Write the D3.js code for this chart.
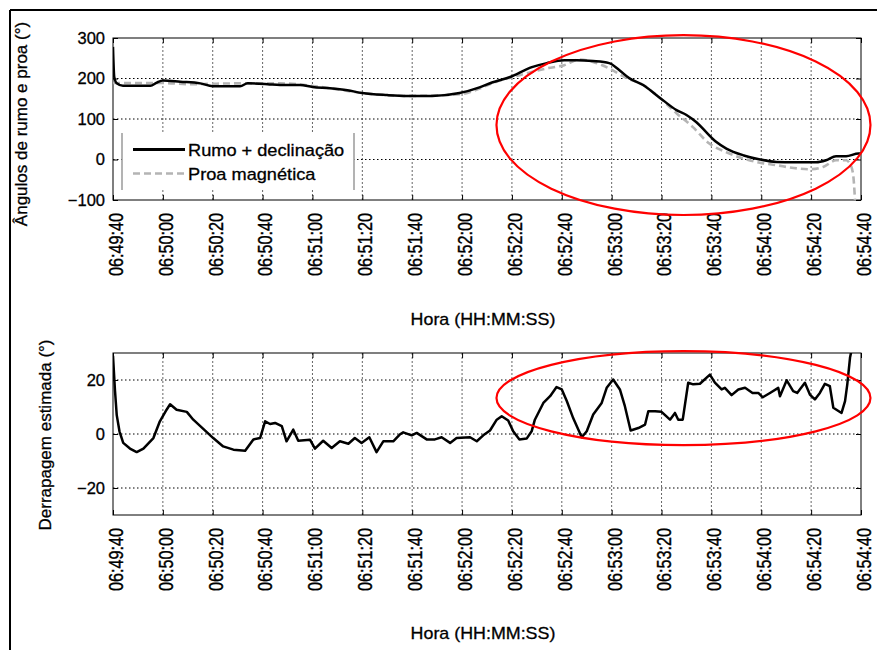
<!DOCTYPE html>
<html>
<head>
<meta charset="utf-8">
<script src="https://cdn.jsdelivr.net/npm/d3@7"></script>
<style>
  body { margin: 0; background: #fff; }
  svg text { font-family: "Liberation Sans", Arial, sans-serif; fill: #000; stroke: #000; stroke-width: 0.3px; }
</style>
</head>
<body>
<svg id="chart" width="877" height="650"></svg>
<script>
// ---- time axis (seconds after 06:49:40) ----
const tickLabels = ["06:49:40","06:50:00","06:50:20","06:50:40","06:51:00","06:51:20","06:51:40","06:52:00",
                    "06:52:20","06:52:40","06:53:00","06:53:20","06:53:40","06:54:00","06:54:20","06:54:40"];

// ---- top panel: heading angles (degrees) ----
const headingTicks = [-100, 0, 100, 200, 300];
const rumoSec = [0,0.5,1.5,4,15,17.6,20,27,35,40,51,54,62,67,75,80,87,94,100,110,118,128,139,147,152,159,168,174,181,186,192.5,199,203,207,212.6,219,226,230,234,238,242,246,253,259.5,266,273,282,286,290,294,299,300];
const rumoDeg = [278,204,188,182,182,190,195,192,188,181,181,188,186,184,184,179,176,171,164,159,157,157,164,178,190,203,228,238,245,245,243,238,221,201,184,154,122,110,92,67,43,27,10,0,-6,-7,-7,-2,8,8,15,15];
const proaSec = [0,19,31,40,51,67,87,100,118,139,147,152,163,174,181,187,192.5,199,206,212.6,219,226,232.6,239,246,253,259.5,266,273,279.5,285,290,294,295.5,296.8,297.6];
const proaDeg = [189,189,186,187,188,188,176,164,157,161,175,188,208,225,233,247,241,225,201,184,154,114,80,40,18,2,-8,-14,-21,-24,-18,-2,-2,-10,-35,-100];

// ---- bottom panel: estimated drift (degrees) ----
const driftTicks = [-20, 0, 20];
const driftSec = [0,0.8,1.5,2.6,4.1,6.8,9.5,12.2,16.2,18.8,21.5,22.9,25.5,29.6,32.2,36.2,40.2,44.2,48.3,53,56.3,59,61,63,65,67.7,69.6,72.3,74.3,79,81,84.3,87.7,91,94.4,97,99.7,102.8,105.7,108.4,112.4,115,116.4,119.8,121.8,125.8,129.1,131.8,135.2,137.8,143.2,145.9,148.5,151.2,153.9,155.9,158.5,160.5,163,165.9,167.9,169.2,172.6,175.3,177.9,180,182,184.6,188,190,192.6,196,198,200.6,203.3,205.3,207.6,210.7,213.4,214.7,217.4,220,223.4,225.4,226.7,228.5,230.7,232.7,235.4,239.4,241.4,244.1,245.4,248.1,250.8,253.5,256.5,258.8,260.6,263.5,266.8,267.5,270.2,272.8,274.4,277.5,279.5,281.5,283.5,285.5,287.5,288.9,292.2,293.6,294.5,295.6,296.2];
const driftDeg = [29,16,7,1,-3.3,-5.4,-6.7,-5.4,-1.5,4.7,9,11,9,8.2,5.3,1.9,-1.5,-4.6,-5.8,-6.2,-2,-1.5,4.7,3.7,4.1,2.9,-2.7,1.6,-2.5,-2.1,-5.4,-2.5,-5.2,-2.7,-3.6,-1.5,-3.3,-1.2,-6.7,-2.7,-2.7,-0.2,0.6,-0.5,0.4,-2,-2,-1.2,-3.3,-1.5,-1.2,-2.7,-0.5,1.3,5.3,6.6,5,1,-2,-1.7,1,5.3,11.5,14,17.4,16.5,12.2,5.8,-1.2,1,7.2,11.5,17.1,20.2,16.5,10.3,1.3,2.2,3.5,8.4,8.4,8.2,5.3,7.8,5.3,5.3,19,18.4,18.6,22,19,16.5,17.1,14.4,16.5,17.1,15.2,15.2,13.6,15.2,17.1,14,19.9,15.9,15.2,19,14.6,12.8,15.2,18.6,17.7,9.7,7.8,12.2,18.4,28.3,31];

// ---- highlighted regions (centre / half-width in data units) ----
const highlightSec = [228.8, 228.8];
const highlightHalfSec = [75, 75];
const highlightDeg = [85, 13.3];
const highlightHalfDeg = [222, 17.4];

const seriesNames = ["Rumo + declinação", "Proa magnética"];

// ------------------------------------------------------------------
const svg = d3.select("#chart");
const parseT = d3.timeParse("%H:%M:%S");
const t0 = parseT(tickLabels[0]);
const at = s => new Date(t0.getTime() + s * 1000);
const tickDates = tickLabels.map(parseT);

const L = 113, R = 861;
const x = d3.scaleTime().domain([tickDates[0], tickDates[tickDates.length - 1]]).range([L, R]);

// page frame
svg.append("line").attr("x1", 10).attr("x2", 877).attr("y1", 10).attr("y2", 10).attr("stroke", "#000").attr("stroke-width", 2);
svg.append("line").attr("x1", 10).attr("x2", 10).attr("y1", 10).attr("y2", 650).attr("stroke", "#000").attr("stroke-width", 2);

function stretch(sel, k) {
  sel.each(function () {
    const w = this.getComputedTextLength();
    d3.select(this).attr("textLength", w * k).attr("lengthAdjust", "spacingAndGlyphs");
  });
}

function panel(id, y0, y1, yDomain, yTicks, yLabel, yLabelX, yLabelY, xLabelY) {
  const y = d3.scaleLinear().domain(yDomain).range([y1, y0]);
  const g = svg.append("g");

  g.append("clipPath").attr("id", "clip" + id)
    .append("rect").attr("x", L).attr("y", y0).attr("width", R - L).attr("height", y1 - y0);

  // grid
  const grid = g.append("g");
  grid.selectAll(".gx").data(tickDates.slice(1, -1)).join("line")
    .attr("x1", d => x(d)).attr("x2", d => x(d)).attr("y1", y0).attr("y2", y1)
    .attr("stroke", "#666").attr("stroke-width", 1).attr("stroke-dasharray", "2,2");
  grid.selectAll(".gy").data(yTicks.filter(v => v > yDomain[0] && v < yDomain[1])).join("line")
    .attr("x1", L).attr("x2", R).attr("y1", d => y(d)).attr("y2", d => y(d))
    .attr("stroke", "#000").attr("stroke-width", 1).attr("stroke-dasharray", "1.5,2.5");

  // axes (inward ticks on all four sides)
  const ax = g.append("g").attr("transform", `translate(0,${y1})`)
    .call(d3.axisBottom(x).tickValues(tickDates).tickFormat(d3.timeFormat("%H:%M:%S")).tickSizeInner(-5).tickSizeOuter(0));
  ax.selectAll("text")
    .attr("font-size", 16.2).attr("text-anchor", "end")
    .attr("transform", "rotate(-90) scale(1,1.3)")
    .attr("x", -13).attr("y", 1.5).attr("dy", "0.35em");
  g.append("g").attr("transform", `translate(0,${y0})`)
    .call(d3.axisTop(x).tickValues(tickDates).tickFormat("").tickSizeInner(-5).tickSizeOuter(0));
  const ay = g.append("g").attr("transform", `translate(${L},0)`)
    .call(d3.axisLeft(y).tickValues(yTicks).tickSizeInner(-5).tickSizeOuter(0).tickPadding(8));
  ay.selectAll("text").attr("font-size", 16.5);
  g.append("g").attr("transform", `translate(${R},0)`)
    .call(d3.axisRight(y).tickValues(yTicks).tickFormat("").tickSizeInner(-5).tickSizeOuter(0));
  g.selectAll(".domain").remove();
  g.selectAll(".tick line").attr("stroke", "#000");
  g.append("rect").attr("x", L).attr("y", y0).attr("width", R - L).attr("height", y1 - y0)
    .attr("fill", "none").attr("stroke", "#000").attr("stroke-width", 1);

  // labels
  g.append("text").attr("transform", `translate(${yLabelX},${yLabelY}) rotate(-90)`)
    .attr("text-anchor", "middle").attr("font-size", 17).text(yLabel);
  g.append("text").attr("x", (L + R) / 2 - 4).attr("y", xLabelY)
    .attr("text-anchor", "middle").attr("font-size", 17).text("Hora (HH:MM:SS)")
    .call(stretch, 1.05);

  return { g, y, clip: "url(#clip" + id + ")" };
}

// ---- top panel ----
const topPanel = panel("A", 38, 200, [-100, 300], headingTicks, "Ângulos de rumo e proa (°)", 27, 124, 325);
const lineTop = d3.line().curve(d3.curveMonotoneX).x(d => x(at(d[0]))).y(d => topPanel.y(d[1]));

topPanel.g.append("path").datum(d3.zip(proaSec, proaDeg)).attr("clip-path", topPanel.clip)
  .attr("d", lineTop).attr("fill", "none").attr("stroke", "#b4b4b4")
  .attr("stroke-width", 2.6).attr("stroke-dasharray", "7,4");
topPanel.g.append("path").datum(d3.zip(rumoSec, rumoDeg)).attr("clip-path", topPanel.clip)
  .attr("d", lineTop).attr("fill", "none").attr("stroke", "#000")
  .attr("stroke-width", 2.5).attr("stroke-linejoin", "round");

// legend
const lg = topPanel.g.append("g");
lg.append("rect").attr("x", 122).attr("y", 133).attr("width", 232).attr("height", 57).attr("fill", "#fff");
[122, 354].forEach(px => lg.append("line").attr("x1", px).attr("x2", px).attr("y1", 133).attr("y2", 190)
  .attr("stroke", "#9a9a9a").attr("stroke-width", 1.5));
const legendStyles = [
  { stroke: "#000", dash: null, w: 2.8 },
  { stroke: "#b4b4b4", dash: "7,4", w: 2.6 }
];
seriesNames.forEach((name, i) => {
  const cy = 149.5 + i * 24;
  lg.append("line").attr("x1", 133).attr("x2", 185).attr("y1", cy).attr("y2", cy)
    .attr("stroke", legendStyles[i].stroke).attr("stroke-width", legendStyles[i].w)
    .attr("stroke-dasharray", legendStyles[i].dash);
  lg.append("text").attr("x", 188).attr("y", cy + 6).attr("font-size", 17).text(name).call(stretch, 1.07);
});

// ---- bottom panel ----
const botPanel = panel("B", 353, 515, [-30, 30], driftTicks, "Derrapagem estimada (°)", 51, 435, 639);
const lineBot = d3.line().x(d => x(at(d[0]))).y(d => botPanel.y(d[1]));
botPanel.g.append("path").datum(d3.zip(driftSec, driftDeg)).attr("clip-path", botPanel.clip)
  .attr("d", lineBot).attr("fill", "none").attr("stroke", "#000")
  .attr("stroke-width", 2.5).attr("stroke-linejoin", "round");

// ---- highlight ellipses ----
[topPanel, botPanel].forEach((p, i) => {
  const cx = x(at(highlightSec[i]));
  const rx = x(at(highlightSec[i] + highlightHalfSec[i])) - cx;
  const cy = p.y(highlightDeg[i]);
  const ry = p.y(highlightDeg[i] - highlightHalfDeg[i]) - cy;
  svg.append("ellipse").attr("cx", cx).attr("cy", cy).attr("rx", rx).attr("ry", ry)
    .attr("fill", "none").attr("stroke", "#ff0000").attr("stroke-width", 2.2);
});
</script>
</body>
</html>
